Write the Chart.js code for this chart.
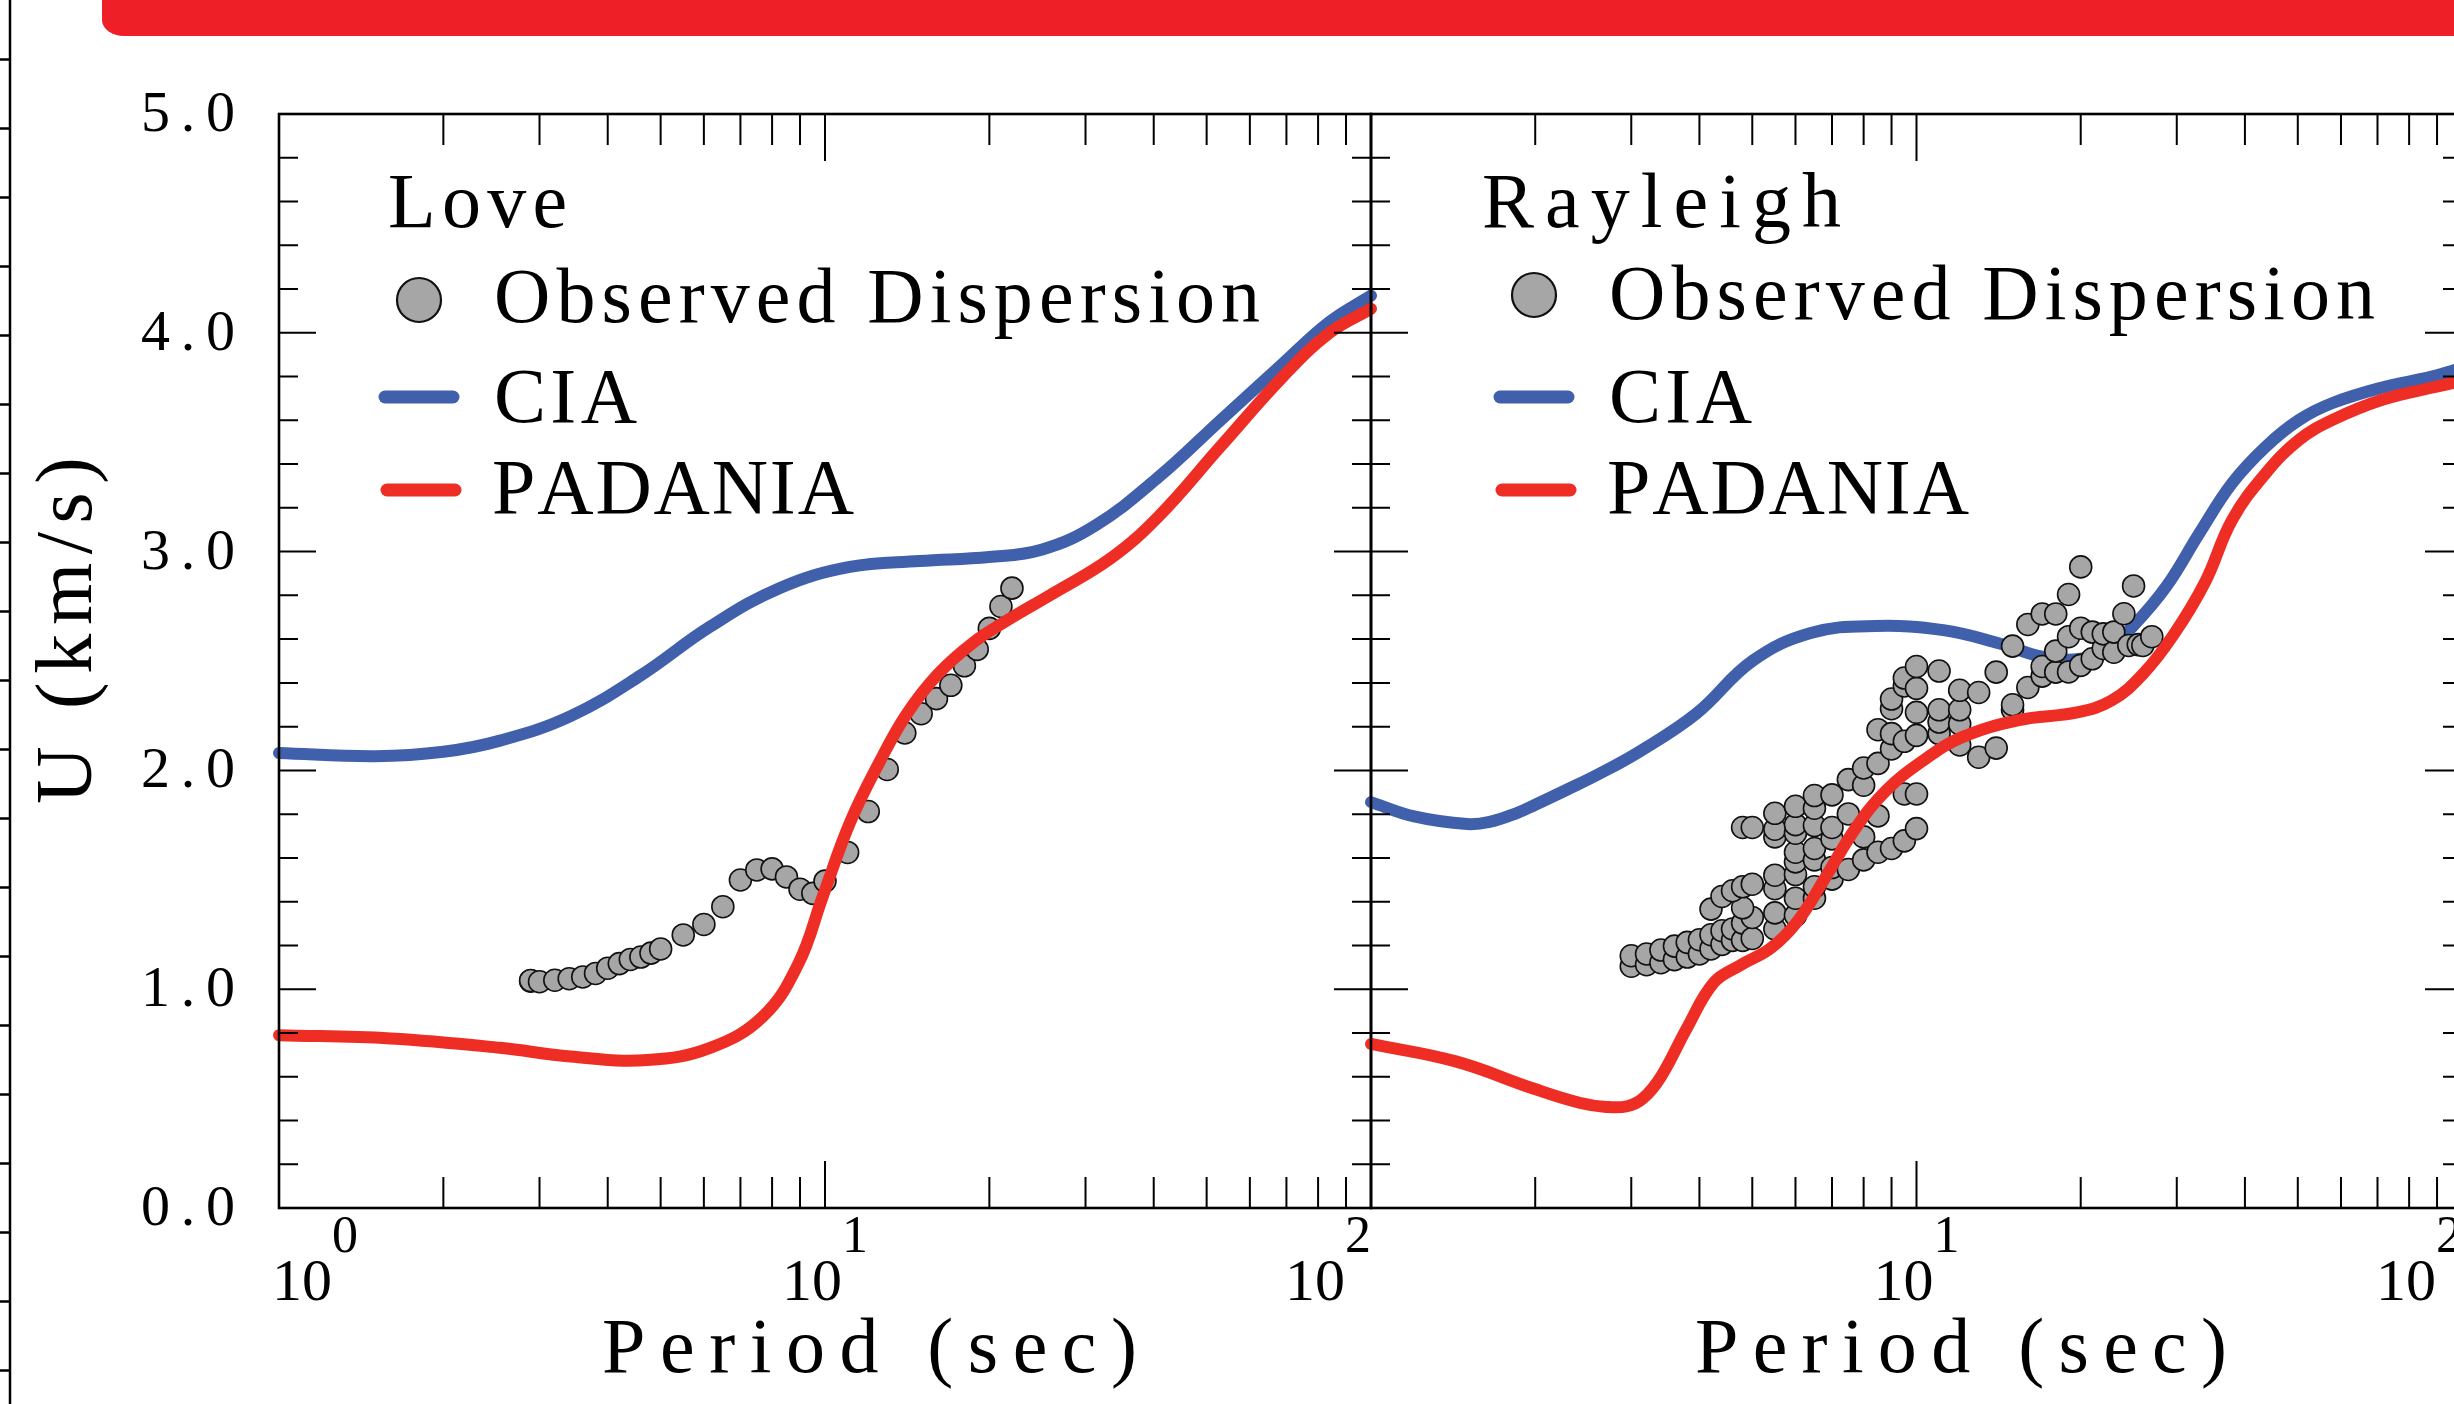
<!DOCTYPE html>
<html>
<head>
<meta charset="utf-8">
<title>Love / Rayleigh group velocity dispersion</title>
<script src="https://cdn.jsdelivr.net/npm/chart.js@4.4.1/dist/chart.umd.min.js"></script>
<style>
  html, body { margin: 0; padding: 0; background: #fff; }
  body { width: 2454px; height: 1404px; overflow: hidden; position: relative; }
  .banner {
    position: absolute; left: 102px; top: -20px;
    width: 2400px; height: 56px;
    background: #ee1f27;
    border-bottom-left-radius: 22px 16px;
  }
  canvas { position: absolute; top: 0; }
  #loveChart { left: 0; }
  #rayleighChart { left: 1300px; }
</style>
</head>
<body>
<div class="banner"></div>
<canvas id="loveChart" width="1400" height="1404"></canvas>
<canvas id="rayleighChart" width="1220" height="1404"></canvas>
<script>
// ============================================
// Data (period in s, group velocity U in km/s)
// ============================================
const xTickValues = [1, 10, 100];
const xTickExponents = ['0', '1', '2'];
const yTickValues = [0, 1, 2, 3, 4, 5];
const yTickLabels = ['0.0', '1.0', '2.0', '3.0', '4.0', '5.0'];

// Love waves
const loveObsPeriod = [2.89, 2.89, 3.0, 3.2, 3.4, 3.6, 3.8, 4.0, 4.2, 4.4, 4.6, 4.8, 5.0, 5.5, 6.0, 6.5,
    7.0, 7.5, 8.0, 8.5, 9.0, 9.5, 10, 11, 12, 13, 14, 15, 16, 17, 18, 19, 20, 21, 22];
const loveObsU = [1.037, 1.040, 1.034, 1.041, 1.048, 1.056, 1.072, 1.096, 1.117, 1.136, 1.147, 1.165, 1.184,
    1.248, 1.296, 1.377, 1.499, 1.545, 1.550, 1.513, 1.457, 1.438, 1.494, 1.625, 1.812, 2.004, 2.171,
    2.259, 2.328, 2.389, 2.478, 2.553, 2.649, 2.749, 2.833];

const loveCiaPeriod = [1, 1.5, 2.0, 2.54, 3.42, 4.59, 6.16, 8.27, 11.1, 14.9, 20, 25, 31.3, 40.8, 53, 69, 84, 100];
const loveCiaU = [2.08, 2.065, 2.085, 2.136, 2.248, 2.433, 2.657, 2.834, 2.93, 2.957, 2.975, 3.01, 3.12,
    3.34, 3.60, 3.86, 4.05, 4.17];

const lovePadPeriod = [1, 1.6, 2.54, 3.42, 4.73, 6.16, 7.7, 8.94, 9.9, 11.1, 12.54, 14.1, 16.1, 18.7, 21.7,
    25.8, 33.4, 40.8, 53, 69, 84, 100];
const lovePadU = [0.79, 0.775, 0.732, 0.692, 0.676, 0.732, 0.876, 1.117, 1.422, 1.759, 2.031, 2.256, 2.44,
    2.585, 2.69, 2.80, 2.97, 3.16, 3.48, 3.80, 4.00, 4.11];

// Rayleigh waves
const rayObsPeriod = [
    3.0, 3.0, 3.2, 3.2, 3.4, 3.4, 3.6, 3.6, 3.8, 3.8, 4.0, 4.0, 4.2, 4.2, 4.4, 4.4, 4.6, 4.6, 4.8, 4.8,
    5.0, 5.0, 4.8, 4.2, 4.4, 4.6, 4.8, 5.0,
    5.5, 5.5, 5.5, 5.5, 5.5, 5.5, 5.5,
    6.0, 6.0, 6.0, 6.0, 6.0, 6.0, 6.0, 6.0,
    6.5, 6.5, 6.5, 6.5, 6.5, 6.5, 6.5,
    4.8, 5.0,
    7.0, 7.0, 7.0, 7.0, 7.0,
    7.5, 7.5, 7.5,
    8.0, 8.0, 8.0, 8.0,
    8.5, 8.5, 8.5, 8.5,
    9.0, 9.5, 10,
    9.0, 9.0, 9.0, 9.0,
    9.5, 9.5, 9.5, 9.5,
    10, 10, 10, 10, 10,
    11, 11, 11, 11,
    12, 12, 12, 12,
    13, 13, 14, 14,
    15, 15, 15,
    16, 16,
    17, 17, 17,
    18, 18, 18,
    19, 19, 19,
    20, 20, 20,
    21, 21, 22, 22, 23, 23,
    24, 24.5, 25, 25.5, 26, 27
];
const rayObsU = [
    1.105, 1.153, 1.112, 1.161, 1.121, 1.179, 1.135, 1.197, 1.147, 1.214, 1.161, 1.226, 1.184, 1.249,
    1.205, 1.267, 1.223, 1.275, 1.223, 1.302,
    1.232, 1.328, 1.372, 1.366, 1.424, 1.450, 1.468, 1.480,
    1.275, 1.349, 1.459, 1.521, 1.696, 1.731, 1.804,
    1.337, 1.416, 1.524, 1.582, 1.626, 1.713, 1.752, 1.836,
    1.416, 1.468, 1.591, 1.643, 1.748, 1.827, 1.885,
    1.739, 1.739,
    1.503, 1.556, 1.687, 1.739, 1.888,
    1.547, 1.801, 1.958,
    1.591, 1.696, 1.932, 2.011,
    1.626, 1.792, 2.032, 2.186,
    1.643, 1.678, 1.734,
    2.098, 2.168, 2.282, 2.326,
    1.892, 2.133, 2.386, 2.422,
    1.892, 2.160, 2.265, 2.375, 2.475,
    2.168, 2.221, 2.277, 2.454,
    2.116, 2.212, 2.277, 2.366,
    2.060, 2.356, 2.102, 2.449,
    2.277, 2.300, 2.568,
    2.379, 2.667,
    2.431, 2.475, 2.715,
    2.449, 2.545, 2.715,
    2.450, 2.611, 2.804,
    2.480, 2.650, 2.930,
    2.510, 2.632, 2.557, 2.624, 2.540, 2.632,
    2.716, 2.571, 2.843, 2.575, 2.571, 2.611
];

const rayCiaPeriod = [1, 1.2, 1.5, 1.65, 1.85, 2.0, 2.3, 2.6, 3.1, 3.95, 5.0, 6.4, 8.4, 11.2, 14.2, 17, 20,
    22.5, 24.9, 28.7, 33, 37.9, 43.7, 50.3, 57.9, 71.4, 88, 100];
const rayCiaU = [1.855, 1.79, 1.755, 1.765, 1.805, 1.843, 1.915, 1.98, 2.085, 2.26, 2.50, 2.628, 2.66, 2.641,
    2.58, 2.52, 2.51, 2.56, 2.657, 2.84, 3.084, 3.313, 3.48, 3.602, 3.679, 3.75, 3.80, 3.84];

const rayPadPeriod = [1, 1.43, 1.99, 2.42, 2.7, 2.95, 3.15, 3.4, 3.79, 4.25, 4.75, 5.41, 6.05, 6.78, 7.71,
    8.78, 10.3, 12.1, 15.4, 19.7, 22.8, 26, 29.6, 33.8, 37.9, 43.7, 50.3, 57.9, 71.4, 88.3, 100];
const rayPadU = [0.75, 0.67, 0.545, 0.48, 0.462, 0.465, 0.50, 0.60, 0.82, 1.03, 1.109, 1.188, 1.31, 1.503,
    1.731, 1.906, 2.046, 2.151, 2.23, 2.265, 2.32, 2.44, 2.62, 2.86, 3.145, 3.359, 3.511, 3.602, 3.694,
    3.75, 3.78];

// ============================================
// Styling helpers
// ============================================
const SERIF = '"Liberation Serif", "Times New Roman", Times, serif';
const BLUE = '#4060ab';
const RED = '#ee2e24';
const GRAY = '#a6a6a6';

function pts(xs, ys) {
    return xs.map((x, i) => ({ x: x, y: ys[i] }));
}

// draw text starting at x, spread out so it spans `width` px
function spacedText(ctx, text, x, y, size, width) {
    ctx.font = size + 'px ' + SERIF;
    const chars = Array.from(text);
    const widths = chars.map(c => ctx.measureText(c).width);
    const natural = widths.reduce((a, b) => a + b, 0);
    const gap = chars.length > 1 ? (width - natural) / (chars.length - 1) : 0;
    let cx = x;
    chars.forEach((c, i) => {
        ctx.fillText(c, cx, y);
        cx += widths[i] + gap;
    });
}

function drawAxes(chart) {
    const { ctx, chartArea: a, scales } = chart;
    const sx = scales.x, sy = scales.y;
    ctx.save();
    ctx.strokeStyle = '#000';
    ctx.lineWidth = 2;
    ctx.beginPath();
    // log ticks, inward on bottom and top
    for (let d = 1; d < 100; d *= 10) {
        for (let m = 1; m < 10; m++) {
            const px = sx.getPixelForValue(d * m);
            const len = m === 1 ? 47 : 31;
            ctx.moveTo(px, a.bottom); ctx.lineTo(px, a.bottom - len);
            ctx.moveTo(px, a.top); ctx.lineTo(px, a.top + len);
        }
    }
    // y ticks every 0.2, inward on left and right
    for (let k = 0; k <= 25; k++) {
        const py = sy.getPixelForValue(k / 5);
        const len = k % 5 === 0 ? 37 : 19;
        ctx.moveTo(a.left, py); ctx.lineTo(a.left + len, py);
        ctx.moveTo(a.right, py); ctx.lineTo(a.right - len, py);
    }
    ctx.stroke();
    ctx.lineWidth = 2.6;
    ctx.strokeRect(a.left, a.top, a.right - a.left, a.bottom - a.top);
    ctx.restore();
}

function drawDecadeLabel(ctx, px, exp, align) {
    ctx.font = '60px ' + SERIF;
    const wBase = ctx.measureText('10').width;
    ctx.font = '52px ' + SERIF;
    const wExp = ctx.measureText(exp).width;
    const total = wBase + wExp;
    const x0 = align === 'left' ? px - 7 : align === 'right' ? px - total : px - total / 2;
    ctx.font = '60px ' + SERIF;
    ctx.fillText('10', x0, 1300);
    ctx.font = '52px ' + SERIF;
    ctx.fillText(exp, x0 + wBase, 1252);
}

function drawLegend(ctx, L) {
    ctx.save();
    ctx.fillStyle = '#000';
    spacedText(ctx, L.title, L.titleX, 227, 78, L.titleW);
    spacedText(ctx, 'Observed Dispersion', L.textX, L.obsY, 78, 766);
    spacedText(ctx, 'CIA', L.textX, 422, 78, 143);
    spacedText(ctx, 'PADANIA', L.textX - 2, 513, 78, 362);

    ctx.beginPath();
    ctx.arc(L.markX, L.markY, 22, 0, Math.PI * 2);
    ctx.fillStyle = GRAY;
    ctx.fill();
    ctx.lineWidth = 2.2;
    ctx.strokeStyle = '#111';
    ctx.stroke();

    ctx.lineCap = 'round';
    ctx.lineWidth = 13;
    ctx.strokeStyle = BLUE;
    ctx.beginPath(); ctx.moveTo(L.lineX, 397); ctx.lineTo(L.lineX + 68, 397); ctx.stroke();
    ctx.strokeStyle = RED;
    ctx.beginPath(); ctx.moveTo(L.lineX + 2, 490); ctx.lineTo(L.lineX + 70, 490); ctx.stroke();
    ctx.restore();
}

function makeDecor(cfg) {
    return {
        id: 'panelDecor',
        afterDraw(chart) {
            const ctx = chart.ctx;
            drawAxes(chart);
            ctx.save();
            ctx.translate(-cfg.offsetX, 0);   // page coordinates from here
            ctx.fillStyle = '#000';
            ctx.textBaseline = 'alphabetic';

            // x tick labels
            cfg.xLabels.forEach(lab => {
                const i = xTickValues.indexOf(lab.value);
                const px = chart.scales.x.getPixelForValue(lab.value) + cfg.offsetX;
                drawDecadeLabel(ctx, px, xTickExponents[i], lab.align);
            });

            spacedText(ctx, 'Period (sec)', cfg.xTitleX, 1372, 78, cfg.xTitleW);
            drawLegend(ctx, cfg.legend);

            if (cfg.yAxis) {
                ctx.fillStyle = '#000';
                yTickValues.forEach((v, i) => {
                    const py = chart.scales.y.getPixelForValue(v);
                    spacedText(ctx, yTickLabels[i], 141, py + 17, 58, 94);
                });
                ctx.save();
                ctx.translate(91, 804);
                ctx.rotate(-Math.PI / 2);
                spacedText(ctx, 'U (km/s)', 0, 0, 80, 347);
                ctx.restore();

                // edge of the neighbouring figure panel
                ctx.strokeStyle = '#000';
                ctx.lineWidth = 2.5;
                ctx.beginPath();
                ctx.moveTo(10, 0); ctx.lineTo(10, 1404);
                for (let ty = 59.6; ty < 1404; ty += 69) {
                    ctx.moveTo(0, ty); ctx.lineTo(10, ty);
                }
                ctx.stroke();
            }
            ctx.restore();
        }
    };
}

function datasets(obsT, obsU, ciaT, ciaU, padT, padU) {
    const lineStyle = {
        showLine: true,
        borderWidth: 12,
        pointRadius: 0,
        pointHoverRadius: 0,
        tension: 0.4,
        cubicInterpolationMode: 'default',
        borderCapStyle: 'round',
        borderJoinStyle: 'round',
        clip: false,
        fill: false
    };
    return [
        Object.assign({ label: 'PADANIA', data: pts(padT, padU), borderColor: RED, order: 0 }, lineStyle),
        {
            label: 'Observed Dispersion',
            data: pts(obsT, obsU),
            showLine: false,
            pointRadius: 11,
            pointHoverRadius: 11,
            backgroundColor: GRAY,
            pointBackgroundColor: GRAY,
            pointBorderColor: '#111',
            pointBorderWidth: 1.6,
            order: 1
        },
        Object.assign({ label: 'CIA', data: pts(ciaT, ciaU), borderColor: BLUE, order: 2 }, lineStyle)
    ];
}

function panelOptions(padding) {
    return {
        responsive: false,
        animation: false,
        events: [],
        layout: { padding: padding },
        plugins: {
            legend: { display: false },
            tooltip: { enabled: false }
        },
        scales: {
            x: { type: 'logarithmic', min: 1, max: 100, display: false },
            y: { type: 'linear', min: 0, max: 5, display: false }
        }
    };
}

// ============================================
// Love panel
// ============================================
new Chart(document.getElementById('loveChart'), {
    type: 'scatter',
    data: { datasets: datasets(loveObsPeriod, loveObsU, loveCiaPeriod, loveCiaU, lovePadPeriod, lovePadU) },
    options: panelOptions({ left: 279, right: 29, top: 114, bottom: 196 }),
    plugins: [makeDecor({
        offsetX: 0,
        yAxis: true,
        xLabels: [
            { value: 1, align: 'left' },
            { value: 10, align: 'center' },
            { value: 100, align: 'right' }
        ],
        xTitleX: 602, xTitleW: 535,
        legend: { title: 'Love', titleX: 388, titleW: 179, markX: 419, markY: 300,
                  textX: 494, obsY: 322, lineX: 385 }
    })]
});

// ============================================
// Rayleigh panel
// ============================================
new Chart(document.getElementById('rayleighChart'), {
    type: 'scatter',
    data: { datasets: datasets(rayObsPeriod, rayObsU, rayCiaPeriod, rayCiaU, rayPadPeriod, rayPadU) },
    options: panelOptions({ left: 71, right: 58, top: 114, bottom: 196 }),
    plugins: [makeDecor({
        offsetX: 1300,
        yAxis: false,
        xLabels: [
            { value: 10, align: 'center' },
            { value: 100, align: 'right' }
        ],
        xTitleX: 1695, xTitleW: 532,
        legend: { title: 'Rayleigh', titleX: 1482, titleW: 359, markX: 1534, markY: 295,
                  textX: 1609, obsY: 319, lineX: 1500 }
    })]
});
</script>
</body>
</html>
